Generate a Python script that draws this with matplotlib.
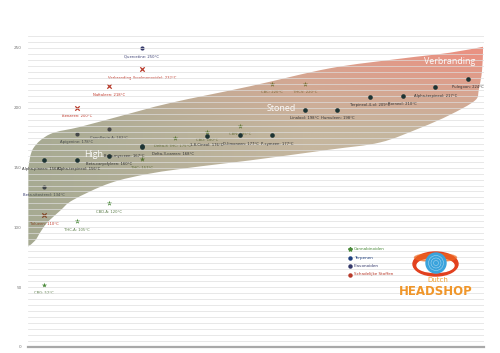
import numpy as np
import matplotlib
matplotlib.use('Agg')
import matplotlib.pyplot as plt
from matplotlib.path import Path
from matplotlib.patches import PathPatch, Ellipse, Circle

# ---------------- data ----------------
cann_names = ["CBG", "THC-A", "CBD-A", "THC", "Delta-8 THC", "CBD", "CBN", "CBC", "THCV"]
cann_x = [0, 1, 2, 3, 4, 5, 6, 7, 8]
cann_temp = [52, 105, 120, 157, 175, 180, 185, 220, 220]

terp_names = ["Alpha-pineen", "Alpha-terpineol", "Beta-caryofyleen", "Beta-myrceen",
              "Delta-3-careen", "1,8-Cineol", "D-limoneen", "P-cymeen", "Linalool",
              "Humuleen", "Terpineol-4-ol", "Borneol", "Alpha-terpineol", "Pulegoon"]
terp_x = [0, 1, 2, 3, 3, 5, 6, 7, 8, 9, 10, 11, 12, 13]
terp_temp = [156, 156, 160, 167, 168, 176, 177, 177, 198, 198, 209, 210, 217, 224]

flav_names = ["Beta-sitosterol", "Apigenine", "Cannflavin A", "Quercetine"]
flav_x = [0, 1, 2, 3]
flav_temp = [134, 178, 182, 250]

harm_names = ["Tolueen", "Benzeen", "Naftaleen", "Verbranding (koolmonoxide)"]
harm_x = [0, 1, 2, 3]
harm_temp = [110, 200, 218, 232]

legend_labels = ["Cannabinoiden", "Terpenen", "Flavonoiden", "Schadelijke Stoffen"]
y_ticks = [0, 50, 100, 150, 200, 250]

# zone outline (decorative band), in data coordinates
zone_upper_x = [-0.49, -0.34, 0.18, 1.10, 2.33, 3.87, 6.32, 8.77, 10.92, 12.45, 13.47]
zone_upper_y = [150, 166, 178, 184, 193, 204, 218, 233, 241, 246, 251]
zone_lower_x = [13.47, 13.44, 13.34, 13.22, 12.45, 11.53, 10.31, 8.77, 6.32, 4.79, 3.25,
                2.02, 0.89, 0.49, 0.09, -0.12, -0.28, -0.49]
zone_lower_y = [248, 231, 215, 206, 194, 183, 171, 165, 156, 151, 145,
                137, 123, 114, 104, 96, 89, 84]
zone_names = ["High", "Stoned", "Verbranding"]

# ---------------- figure ----------------
W, H = 500, 353
fig = plt.figure(figsize=(5.0, 3.53), dpi=100)
ax = fig.add_axes([28 / W, 1 - 347 / H, (484 - 28) / W, (347 - 30) / H])
ax.set_xlim(-0.5, 13.5)
ax.set_ylim(0, 265)
for s in ax.spines.values():
    s.set_visible(False)
ax.set_xticks([])
ax.set_yticks(y_ticks)
ax.set_yticklabels([str(t) for t in y_ticks], fontsize=3, color='#777777')
ax.tick_params(axis='y', length=0, pad=4.5)

# grid lines
for g in np.arange(5, 265, 5):
    ax.axhline(g, color='#dedede', lw=0.6, alpha=0.8, zorder=2.5)
ax.axhline(0, color='#a9a9a9', lw=1.6, zorder=3, clip_on=False)


# gradient zone with smooth outline
def smooth(xs, ys):
    p = np.column_stack([xs, ys]).astype(float)
    out = []
    n = len(p)
    for i in range(n - 1):
        p0 = p[i - 1] if i > 0 else p[i]
        p1, p2 = p[i], p[i + 1]
        p3 = p[i + 2] if i + 2 < n else p[i + 1]
        out.append((p1 + (p2 - p0) / 6, p2 - (p3 - p1) / 6, p2))
    return p[0], out


verts, codes = [], []
s0, segs = smooth(zone_upper_x, zone_upper_y)
verts.append(s0); codes.append(Path.MOVETO)
for c1, c2, e in segs:
    verts += [c1, c2, e]; codes += [Path.CURVE4] * 3
s1, segs = smooth(zone_lower_x, zone_lower_y)
verts.append(s1); codes.append(Path.LINETO)
for c1, c2, e in segs:
    verts += [c1, c2, e]; codes += [Path.CURVE4] * 3
verts.append(s0); codes.append(Path.CLOSEPOLY)
path = Path(verts, codes)
patch = PathPatch(path, facecolor='none', edgecolor='none')
ax.add_patch(patch)

nx, ny = 300, 200
gx = np.linspace(-0.5, 13.5, nx)
gy = np.linspace(80, 262, ny)
GX, GY = np.meshgrid(gx, gy)
u = (GX + 0.5) / 14.0
v = np.clip((GY - 85) / 165.0, 0, 1)
sage = np.array([166, 170, 146.0])
tan = np.array([197, 182, 158.0])
salmon = np.array([233, 146, 130.0])
t = np.clip(u / 0.6, 0, 1)[..., None]
base = sage + (tan - sage) * t
w = (np.clip((v - 0.58) / 0.38, 0, 1) * np.clip(u / 0.95, 0, 1))[..., None]
eff = base + (salmon - base) * w
a = 0.5
raw = np.clip((eff - (1 - a) * 255) / a, 0, 255) / 255.0
rgba = np.concatenate([raw, np.full(raw.shape[:2] + (1,), a)], axis=2)
im = ax.imshow(rgba, extent=[-0.5, 13.5, 80, 262], origin='lower', aspect='auto',
               interpolation='bilinear', zorder=2)
im.set_clip_path(patch)
ax.set_xlim(-0.5, 13.5)
ax.set_ylim(0, 265)

lab_fs = 2.7
c_cann, c_cann_t = '#4a8a3a', '#5c7d4a'
c_terp, c_terp_t = '#1d3434', '#333333'
c_flav, c_flav_t = '#34386a', '#3b3f72'
c_harm, c_harm_t = '#b83a2a', '#c0392b'


def label(x, y, txt, color, z, dx=0, ha='center'):
    ax.annotate(txt, (x, y), xytext=(dx, -6), textcoords='offset points', ha=ha, va='center',
                fontsize=lab_fs, color=color, zorder=z)


# cannabinoids (under zone)
ax.scatter(cann_x, cann_temp, marker='*', s=16, color=c_cann, linewidths=0, zorder=1.5)
for n, x, y in zip(cann_names, cann_x, cann_temp):
    label(x, y, f"{n}: {y}°C", c_cann_t, 1.5, dx=-1.5 if n == "Delta-8 THC" else 0)

# flavonoids (under zone)
ax.scatter(flav_x, flav_temp, marker='o', s=9, color=c_flav, linewidths=0, zorder=1.5)
for n, x, y in zip(flav_names, flav_x, flav_temp):
    label(x, y, f"{n}: {y}°C", c_flav_t, 1.5)

# harmful (under zone)
ax.scatter(harm_x, harm_temp, marker='x', s=10, color=c_harm, linewidths=0.9, zorder=1.5)
for n, x, y in zip(harm_names, harm_x, harm_temp):
    label(x, y, f"{n}: {y}°C", c_harm_t, 1.5)

# terpenes (over zone)
ax.scatter(terp_x, terp_temp, marker='o', s=11, color=c_terp, linewidths=0, zorder=3.5)
label_dx = {"Alpha-pineen": -2, "Beta-myrceen": -13, "Delta-3-careen": 7,
            "1,8-Cineol": -0.5, "D-limoneen": 1.2, "P-cymeen": 3.5}
for n, x, y in zip(terp_names, terp_x, terp_temp):
    dx = label_dx.get(n, 0)
    if n == "Alpha-terpineol" and x == 1:
        dx = 1.5
    ha = 'left' if n == "Delta-3-careen" else 'center'
    label(x, y, f"{n}: {y}°C", c_terp_t, 3.5, dx=dx, ha=ha)

# zone names
zone_pos = [(1.53, 161), (7.27, 199), (12.45, 239)]
for n, (x, y) in zip(zone_names, zone_pos):
    ax.text(x, y, n, fontsize=6.4, color='white', ha='center', va='center', zorder=4,
            family='Open Sans', alpha=0.95)

# legend
leg_colors = [c_cann, '#1f3f7f', c_flav, c_harm]
leg_markers = ['*', 'o', 'o', 'o']
leg_y = [249, 257.5, 266, 274.5]
for lab, col, mk, py in zip(legend_labels, leg_colors, leg_markers, leg_y):
    fig.lines.append(plt.Line2D([350 / W], [1 - py / H], marker=mk, markersize=2.2 if mk == 'o' else 3,
                                color=col, linestyle='none', transform=fig.transFigure))
    fig.text(354 / W, 1 - py / H, lab, fontsize=3, color=col, va='center', ha='left')

# logo
axl = fig.add_axes([395 / W, 1 - 302 / H, 85 / W, 52 / H])
axl.set_xlim(395, 480)
axl.set_ylim(302, 250)
axl.axis('off')
axl.add_patch(Ellipse((435.5, 264), 45, 24, color='#e2401e'))
axl.add_patch(Ellipse((435.5, 265.5), 37, 14, color='white'))
axl.add_patch(Ellipse((435.5, 257.5), 42, 8, color='#ee6a22', alpha=0.6))
axl.add_patch(Circle((436, 263), 10, color='#3aa3dc'))
for r in [2.5, 5, 7.5]:
    axl.add_patch(Circle((436, 263), r, fill=False, edgecolor='white', lw=0.3, alpha=0.7))
axl.text(438, 280.5, "Dutch", fontsize=5, color='#f0a030', ha='center', va='center')
axl.text(436, 292, "HEADSHOP", fontsize=8.5, color='#f0962a', ha='center', va='center',
         fontweight='bold')

fig.savefig('out.png', dpi=100)
